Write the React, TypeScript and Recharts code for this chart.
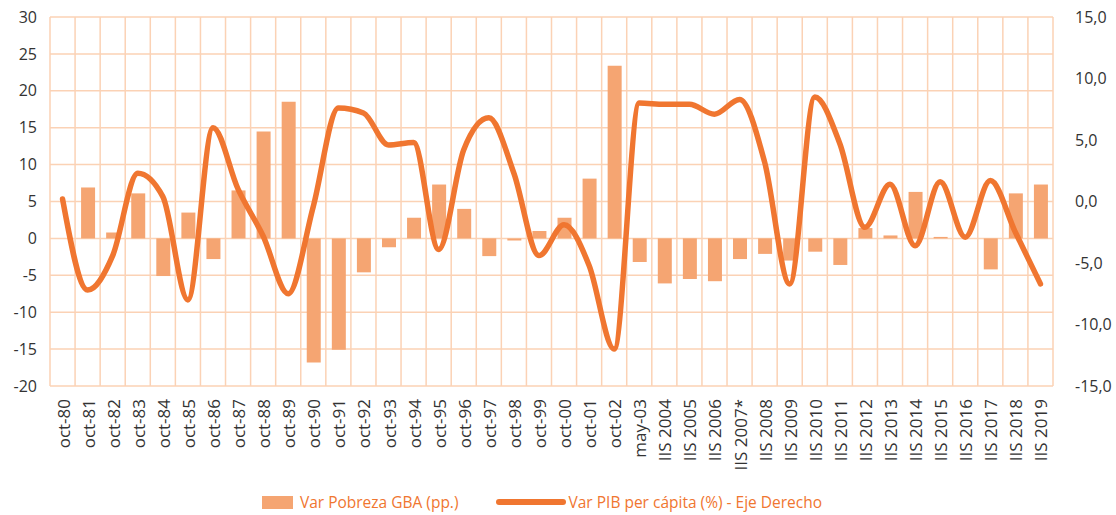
import React from "react";
import {
  Bar,
  CartesianGrid,
  ComposedChart,
  Legend,
  Line,
  XAxis,
  YAxis,
} from "recharts";

const categories = [
  "oct-80", "oct-81", "oct-82", "oct-83", "oct-84", "oct-85", "oct-86", "oct-87",
  "oct-88", "oct-89", "oct-90", "oct-91", "oct-92", "oct-93", "oct-94", "oct-95",
  "oct-96", "oct-97", "oct-98", "oct-99", "oct-00", "oct-01", "oct-02", "may-03",
  "IIS 2004", "IIS 2005", "IIS 2006", "IIS 2007*", "IIS 2008", "IIS 2009",
  "IIS 2010", "IIS 2011", "IIS 2012", "IIS 2013", "IIS 2014", "IIS 2015",
  "IIS 2016", "IIS 2017", "IIS 2018", "IIS 2019",
];

const pobreza = [
  0, 6.9, 0.8, 6.1, -5.1, 3.5, -2.8, 6.5, 14.5, 18.5, -16.8, -15.1, -4.6, -1.2,
  2.8, 7.3, 4.0, -2.4, -0.3, 1.0, 2.8, 8.1, 23.4, -3.2, -6.1, -5.5, -5.8, -2.8,
  -2.1, -3.0, -1.8, -3.6, 1.4, 0.4, 6.3, 0.2, 0, -4.2, 6.1, 7.3,
];

const pib = [
  0.2, -7.2, -4.4, 2.3, 0.4, -8.0, 6.0, 1.0, -2.8, -7.5, -0.4, 7.6, 7.2, 4.6,
  4.8, -3.9, 4.2, 6.8, 2.3, -4.4, -1.9, -5.2, -12.0, 8.0, 7.9, 7.9, 7.1, 8.3,
  3.2, -6.7, 8.5, 4.7, -2.1, 1.4, -3.6, 1.6, -2.9, 1.7, -2.5, -6.7,
];

const leftTicks = [-20, -15, -10, -5, 0, 5, 10, 15, 20, 25, 30];
const rightTicks = [-15, -10, -5, 0, 5, 10, 15];

const barName = "Var Pobreza GBA (pp.)";
const lineName = "Var PIB per cápita (%) - Eje Derecho";

const BAR_COLOR = "#F5A572";
const LINE_COLOR = "#F07630";
const GRID_COLOR = "#FBD2B5";
const TEXT_COLOR = "#333333";
const FONT = "'Open Sans', 'Liberation Sans', sans-serif";

const data = categories.map((name, i) => ({
  name,
  pobreza: pobreza[i],
  pib: pib[i],
}));

const XTick = (props: any) => {
  const { x, y, payload } = props;
  return (
    <text
      x={0}
      y={0}
      transform={`translate(${x + 7}, ${y + 5}) rotate(-90)`}
      textAnchor="end"
      fill={TEXT_COLOR}
      fontSize={17}
      fontFamily={FONT}
    >
      {payload.value}
    </text>
  );
};

const LegendContent = () => (
  <div
    style={{
      display: "flex",
      justifyContent: "center",
      alignItems: "center",
      fontFamily: FONT,
      fontSize: 15.5,
      color: LINE_COLOR,
      paddingRight: 32,
      position: "relative",
      top: 10,
    }}
  >
    <span
      style={{
        display: "inline-block",
        width: 31,
        height: 13,
        background: BAR_COLOR,
        marginRight: 7,
      }}
    />
    <span style={{ marginRight: 37 }}>{barName}</span>
    <span
      style={{
        display: "inline-block",
        width: 70,
        height: 6,
        borderRadius: 3,
        background: LINE_COLOR,
        marginRight: 3,
      }}
    />
    <span>{lineName}</span>
  </div>
);

export default function App() {
  return (
    <div style={{ position: "absolute", left: 0, top: 0, background: "#fff" }}>
      <ComposedChart
        width={1116}
        height={515}
        data={data}
        margin={{ top: 17, right: 0, left: 0, bottom: 4 }}
        barCategoryGap="22%"
      >
        <CartesianGrid
          yAxisId="left"
          stroke={GRID_COLOR}
          strokeWidth={1.5}
          verticalCoordinatesGenerator={({ offset }: any) =>
            categories
              .concat([""])
              .map((_, k) => offset.left + (offset.width * k) / categories.length)
          }
        />
        <XAxis
          dataKey="name"
          interval={0}
          axisLine={false}
          tickLine={false}
          height={95}
          tick={<XTick />}
        />
        <YAxis
          yAxisId="left"
          domain={[-20, 30]}
          ticks={leftTicks}
          width={50}
          axisLine={false}
          tickLine={false}
          tick={{ fill: TEXT_COLOR, fontSize: 16, fontFamily: FONT }}
          tickMargin={7}
        />
        <YAxis
          yAxisId="right"
          orientation="right"
          domain={[-15, 15]}
          ticks={rightTicks}
          width={63}
          axisLine={false}
          tickLine={false}
          tick={{ fill: TEXT_COLOR, fontSize: 16, fontFamily: FONT }}
          tickMargin={16}
          tickFormatter={(v: number) => v.toFixed(1).replace(".", ",")}
        />
        <Legend verticalAlign="bottom" height={30} content={<LegendContent />} />
        <Bar
          yAxisId="left"
          dataKey="pobreza"
          name={barName}
          fill={BAR_COLOR}
          barSize={14}
          isAnimationActive={false}
        />
        <Line
          yAxisId="right"
          dataKey="pib"
          name={lineName}
          type="monotone"
          stroke={LINE_COLOR}
          strokeWidth={5.5}
          strokeLinecap="round"
          strokeLinejoin="round"
          dot={false}
          isAnimationActive={false}
        />
      </ComposedChart>
    </div>
  );
}
